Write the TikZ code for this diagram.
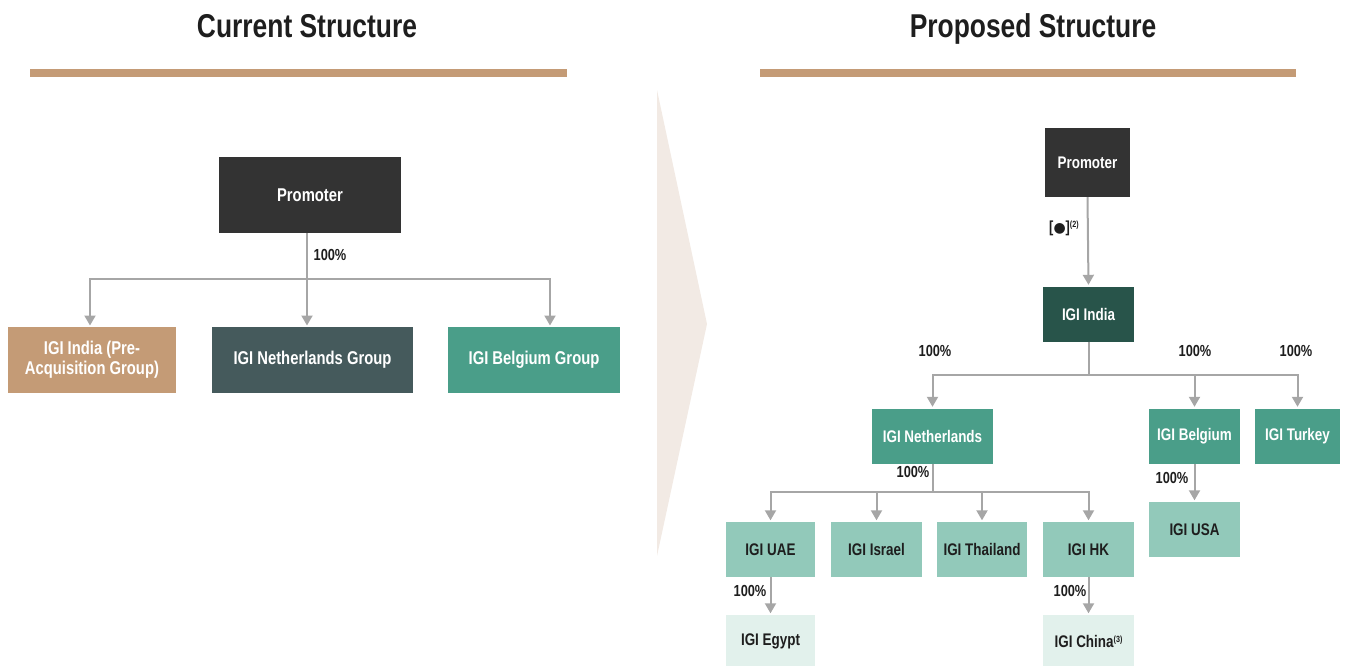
\documentclass[tikz,border=0pt]{standalone}
\usepackage{fontspec}
\setmainfont[FakeStretch=0.8]{Liberation Sans}
\newfontfamily\dejavu{DejaVu Sans}
\usetikzlibrary{arrows.meta}
\definecolor{tanc}{HTML}{C49B76}
\definecolor{slatec}{HTML}{455A5C}
\definecolor{tealc}{HTML}{4A9E89}
\definecolor{darkc}{HTML}{333333}
\definecolor{dgreen}{HTML}{28544A}
\definecolor{lteal}{HTML}{92C9BA}
\definecolor{vlteal}{HTML}{E2F1EC}
\definecolor{chev}{HTML}{F2EAE4}
\definecolor{arrc}{HTML}{A6A6A6}
\definecolor{txtc}{HTML}{1E1E1E}
\tikzset{
  box/.style={inner sep=0pt, align=center, font=\bfseries\fontsize{18.5}{20}\selectfont},
  sbox/.style={inner sep=0pt, align=center, font=\bfseries\fontsize{16.8}{18}\selectfont, minimum width=91pt, minimum height=55pt},
  arr/.style={draw=arrc, line width=2pt, -{Triangle[width=11pt,length=10pt]}, shorten >=1.5pt},
  lin/.style={draw=arrc, line width=2pt},
  pct/.style={font=\bfseries\fontsize{16}{17}\selectfont, text=txtc, inner sep=0pt},
  ttl/.style={font=\bfseries\fontsize{33}{36}\selectfont, text=txtc, inner sep=0pt, anchor=base},
}
\begin{document}
\begin{tikzpicture}[x=1pt,y=-1pt]
\useasboundingbox (0,0) rectangle (1354,666);
% titles and bars
\node[ttl] (t1) at (307,38) {Current Structure};
\node[ttl] (t2) at (1033,38) {Proposed Structure};
\fill[tanc] (30,69) rectangle (567,77);
\fill[tanc] (760,69) rectangle (1296,77);
% chevron
\fill[chev] (657,90) -- (707,324) -- (657,556) -- cycle;

% ---- left ----
\node[box, fill=darkc, text=white, minimum width=182pt, minimum height=76pt] (lp) at (310,195) {Promoter};
\node[box, fill=tanc, text=white, minimum width=168pt, minimum height=66pt] (lin) at (92,360) {IGI India (Pre-\\Acquisition Group)};
\node[box, fill=slatec, text=white, minimum width=201pt, minimum height=66pt] (lnl) at (312.5,360) {IGI Netherlands Group};
\node[box, fill=tealc, text=white, minimum width=172pt, minimum height=66pt] (lbe) at (534,360) {IGI Belgium Group};
\coordinate (lb) at (307,279);
\draw[lin] (lp.south -| lb) -- (lb);
\draw[arr] (lb) -| (90,327);
\draw[arr] (lb) -- (307,327);
\draw[arr] (lb) -| (550,327);
\node[pct] (l100) at (330,255) {100\%};

% ---- right ----
\node[sbox, fill=darkc, text=white, minimum width=85pt, minimum height=69pt] (rp) at (1087.5,162.5) {Promoter};
\node[sbox, fill=dgreen, text=white] (rin) at (1088.5,314) {IGI India};
\draw[arr] (rp.south) -- (rin.north);
\node[pct] (rl1) at (1064,228) {[{\dejavu\fontsize{14}{15}\selectfont ●}]\raisebox{5pt}{\fontsize{9}{10}\selectfont(2)}};

\node[sbox, fill=tealc, text=white, minimum width=121pt] (rnl) at (932.5,436) {IGI Netherlands};
\node[sbox, fill=tealc, text=white] (rbe) at (1194.5,436) {IGI Belgium};
\node[sbox, fill=tealc, text=white, minimum width=85pt] (rtr) at (1297.5,436) {IGI Turkey};
\coordinate (rb1) at (1088.5,375);
\draw[lin] (rin.south) -- (rb1);
\draw[arr] (rb1) -| (rnl.north);
\draw[arr] (rb1) -| (rbe.north);
\draw[arr] (rb1) -| (rtr.north);
\node[pct] (rl2) at (935,351) {100\%};
\node[pct] (rl3) at (1195,351) {100\%};
\node[pct] (rl4) at (1296,351) {100\%};

\node[sbox, fill=lteal, text=txtc, minimum width=89pt] (uae) at (770.5,549.5) {IGI UAE};
\node[sbox, fill=lteal, text=txtc] (isr) at (876.5,549.5) {IGI Israel};
\node[sbox, fill=lteal, text=txtc, minimum width=90pt] (tha) at (982,549.5) {IGI Thailand};
\node[sbox, fill=lteal, text=txtc] (hk) at (1088.5,549.5) {IGI HK};
\node[sbox, fill=lteal, text=txtc] (usa) at (1194.5,529.5) {IGI USA};
\coordinate (rb2) at (932.5,492);
\draw[lin] (rnl.south) -- (rb2);
\draw[arr] (rb2) -| (uae.north);
\draw[arr] (rb2) -| (isr.north);
\draw[arr] (rb2) -| (tha.north);
\draw[arr] (rb2) -| (hk.north);
\node[pct] (rl5) at (913,472) {100\%};
\draw[arr] (rbe.south) -- (usa.north);
\node[pct] (rl6) at (1172,478) {100\%};

\node[sbox, fill=vlteal, text=txtc, minimum width=89pt, minimum height=53pt] (egy) at (770.5,641.5) {IGI Egypt};
\node[sbox, fill=vlteal, text=txtc, minimum height=53pt] (chn) at (1088.5,641.5) {IGI China\raisebox{5pt}{\fontsize{9}{10}\selectfont(3)}};
\draw[arr] (uae.south) -- (egy.north);
\draw[arr] (hk.south) -- (chn.north);
\node[pct] (rl7) at (750,591) {100\%};
\node[pct] (rl8) at (1070,591) {100\%};
\end{tikzpicture}
\end{document}
